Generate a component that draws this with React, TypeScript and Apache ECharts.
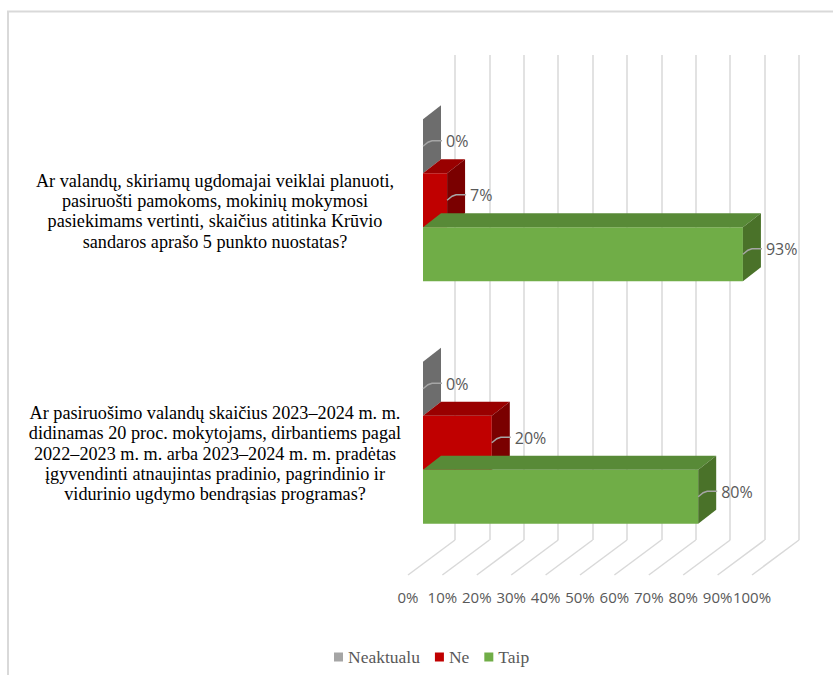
import React, { useEffect, useRef } from "react";
import * as echarts from "echarts";

const categories = [
  "Ar valandų, skiriamų ugdomajai veiklai planuoti,\npasiruošti pamokoms, mokinių mokymosi\npasiekimams vertinti, skaičius atitinka Krūvio\nsandaros aprašo 5 punkto nuostatas?",
  "Ar pasiruošimo valandų skaičius 2023–2024 m. m.\ndidinamas 20 proc. mokytojams, dirbantiems pagal\n2022–2023 m. m. arba 2023–2024 m. m. pradėtas\nįgyvendinti atnaujintas pradinio, pagrindinio ir\nvidurinio ugdymo bendrąsias programas?",
];
const seriesNames = ["Neaktualu", "Ne", "Taip"];
const neaktualu = [0, 0];
const ne = [7, 20];
const taip = [93, 80];
const xTicks = [0, 10, 20, 30, 40, 50, 60, 70, 80, 90, 100];

const palettes = [
  { front: "#a5a5a5", top: "#7f7f7f", side: "#6d6d6d" },
  { front: "#c00000", top: "#990000", side: "#7a0000" },
  { front: "#70ad47", top: "#588a37", side: "#4a7229" },
];

const DX = 18;
const DY = -14;
const SERIF = "'Liberation Serif', 'Times New Roman', serif";
const SANS = "'Open Sans', sans-serif";

function barSeries(name: string, data: number[], slot: number) {
  const pal = palettes[slot];
  return {
    type: "custom",
    name,
    xAxisIndex: 2,
    yAxisIndex: 2,
    data: data.map((v, i) => [v, i]),
    encode: { x: 0, y: 1 },
    itemStyle: { color: pal.front },
    renderItem: (params: any, api: any) => {
      const v = api.value(0);
      const ci = api.value(1);
      const p0 = api.coord([0, ci]);
      const p1 = api.coord([v, ci]);
      const band = api.size([0, 1])[1];
      const bh = (band * 0.668) / 3;
      const yTop = p0[1] - 1.5 * bh + slot * bh;
      const yBot = yTop + bh;
      const x0 = p0[0];
      const x1 = p1[0];
      const yc = (yTop + yBot) / 2;
      const children: any[] = [];
      if (x1 - x0 > 0.01) {
        children.push({
          type: "rect",
          shape: { x: x0, y: yTop, width: x1 - x0, height: bh },
          style: { fill: pal.front },
        });
        children.push({
          type: "polygon",
          shape: {
            points: [
              [x0, yTop],
              [x1, yTop],
              [x1 + DX, yTop + DY],
              [x0 + DX, yTop + DY],
            ],
          },
          style: { fill: pal.top },
        });
      }
      children.push({
        type: "polygon",
        shape: {
          points: [
            [x1, yTop],
            [x1 + DX, yTop + DY],
            [x1 + DX, yBot + DY],
            [x1, yBot],
          ],
        },
        style: { fill: pal.side },
      });
      children.push({
        type: "polyline",
        shape: {
          points: [
            [x1, yc],
            [x1 + 5, yc - 4],
            [x1 + 9, yc - 5.5],
            [x1 + 19, yc - 5.5],
          ],
        },
        style: { stroke: "#a6a6a6", lineWidth: 1.5, fill: "none" },
      });
      children.push({
        type: "text",
        x: x1 + 23,
        y: yc - 5,
        style: {
          text: v + "%",
          fill: "#595959",
          fontSize: 16,
          fontFamily: SANS,
          align: "left",
          verticalAlign: "middle",
        },
      });
      return { type: "group", children };
    },
  };
}

export default function App() {
  const ref = useRef<HTMLDivElement>(null);
  useEffect(() => {
    const chart = echarts.init(ref.current!, null, { renderer: "svg" });
    const option: any = {
      animation: false,
      color: palettes.map((p) => p.front),
      graphic: [
        {
          type: "rect",
          shape: { x: 8, y: 11.5, width: 860, height: 700 },
          style: { fill: "none", stroke: "#d9d9d9", lineWidth: 2 },
          silent: true,
        },
      ],
      legend: {
        data: seriesNames,
        left: 334,
        top: 648,
        padding: 0,
        itemWidth: 9,
        itemHeight: 9,
        itemGap: 15,
        icon: "rect",
        textStyle: {
          fontFamily: SERIF,
          fontSize: 17.5,
          color: "#595959",
        },
      },
      grid: [
        { left: 455, top: 55, width: 344, height: 485 },
        { left: 408, top: 90, width: 344, height: 485 },
        { left: 423, top: 79, width: 344, height: 485 },
      ],
      xAxis: [
        {
          type: "value",
          gridIndex: 0,
          min: 0,
          max: 100,
          interval: 10,
          axisLine: { show: false },
          axisTick: { show: false },
          axisLabel: { show: false },
          splitLine: { show: true, lineStyle: { color: "#d9d9d9", width: 1.5 } },
        },
        {
          type: "value",
          gridIndex: 1,
          min: 0,
          max: 100,
          interval: 10,
          axisLine: { show: false },
          axisTick: { show: false },
          splitLine: { show: false },
          axisLabel: {
            formatter: "{value}%",
            color: "#595959",
            fontFamily: SANS,
            fontSize: 15,
            margin: 14,
            showMinLabel: true,
            showMaxLabel: true,
            hideOverlap: false,
          },
        },
        {
          type: "value",
          gridIndex: 2,
          min: 0,
          max: 100,
          show: false,
        },
      ],
      yAxis: [
        { type: "category", gridIndex: 0, data: categories, show: false, inverse: true },
        {
          type: "category",
          gridIndex: 1,
          data: categories,
          inverse: true,
          axisLine: { show: false },
          axisTick: { show: false },
          splitLine: { show: false },
          axisLabel: {
            align: "center",
            margin: 193,
            color: "#000000",
            fontFamily: SERIF,
            fontSize: 18.2,
            lineHeight: 20.3,
          },
        },
        { type: "category", gridIndex: 2, data: categories, show: false, inverse: true },
      ],
      series: [
        {
          type: "custom",
          name: "floor",
          xAxisIndex: 1,
          yAxisIndex: 1,
          silent: true,
          data: xTicks.map((v) => [v, 0]),
          encode: { x: 0, y: 1 },
          renderItem: (params: any, api: any) => {
            const p = api.coord([api.value(0), 0]);
            const cs = params.coordSys;
            const bottom = cs.y + cs.height;
            return {
              type: "line",
              shape: { x1: p[0], y1: bottom, x2: p[0] + 47, y2: bottom - 35 },
              style: { stroke: "#d9d9d9", lineWidth: 1.5 },
            };
          },
        },
        barSeries(seriesNames[0], neaktualu, 0),
        barSeries(seriesNames[1], ne, 1),
        barSeries(seriesNames[2], taip, 2),
      ],
    };
    chart.setOption(option);
    return () => chart.dispose();
  }, []);
  return (
    <div
      ref={ref}
      style={{ position: "fixed", left: 0, top: 0, width: 833, height: 675, background: "#fff" }}
    />
  );
}
